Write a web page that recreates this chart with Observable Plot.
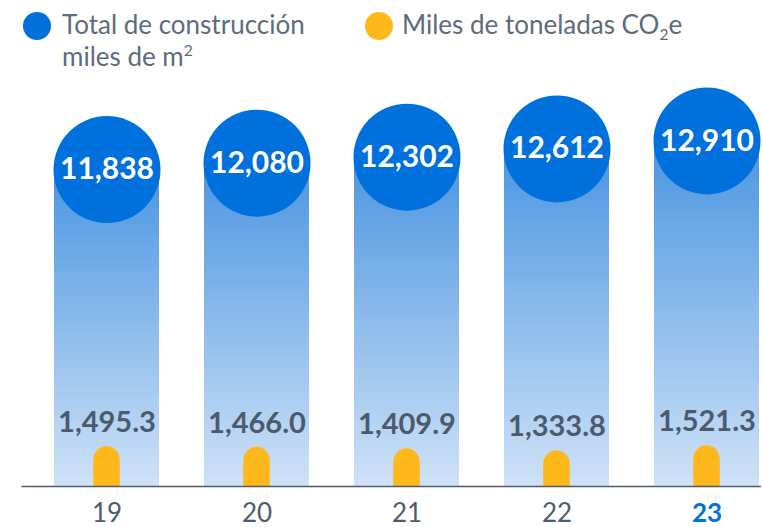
<!DOCTYPE html>
<html><head><meta charset="utf-8">
<script src="https://cdn.jsdelivr.net/npm/d3@7"></script>
<script src="https://cdn.jsdelivr.net/npm/@observablehq/plot@0.6"></script>
<style>
body{margin:0;background:#fff;font-family:Lato,sans-serif;}
#wrap{width:763px;height:527px;position:relative;overflow:hidden;background:#fff}
#legend{position:relative;height:76px;width:763px;color:#5d6c7c;font-size:26px;}
.dot{position:absolute;width:28px;height:28px;border-radius:50%;}
.lab{position:absolute;line-height:32px;white-space:nowrap}
sup,sub{font-size:0.6em;line-height:0}
#chart svg{display:block}
</style></head><body>
<div id="wrap">
<div id="legend">
 <span class="dot" style="left:23px;top:12px;background:#0071dc"></span>
 <span class="lab" style="left:62px;top:8px">Total de construcción<br>miles de m<sup>2</sup></span>
 <span class="dot" style="left:365px;top:12px;background:#ffb81c"></span>
 <span class="lab" style="left:402px;top:8px">Miles de toneladas CO<sub>2</sub>e</span>
</div>
<div id="chart"></div>
</div>
<script>
const years = ["19","20","21","22","23"];
const construction = [11838, 12080, 12302, 12612, 12910];
const emissions = [1495.3, 1466.0, 1409.9, 1333.8, 1521.3];
const highlightYear = "23";

const data = years.map((year, i) => ({year, construction: construction[i], emissions: emissions[i]}));
const fmt0 = d3.format(",");
const fmt1 = d3.format(",.1f");
const blue = "#0071dc", orange = "#ffb81c", ink = "#4b5b6c";

const plot = Plot.plot({
  width: 763, height: 451,
  marginLeft: 51.5, marginRight: 2, marginTop: 62, marginBottom: 41,
  x: {domain: years, paddingInner: 0.3, paddingOuter: 0, axis: null},
  y: {domain: [0, 13000], axis: null},
  style: {fontFamily: "Lato, sans-serif", background: "white", overflow: "visible"},
  marks: [
    Plot.barY(data, {x: "year", y: "construction", fill: "url(#blueGrad)"}),
    Plot.barY(data, {x: "year", y: "emissions", fill: orange, insetLeft: 39.3, insetRight: 39.3, rx: 13.5, ry: 13.5}),
    Plot.barY(data, {x: "year", y1: 0, y2: d => d.emissions / 2, fill: orange, insetLeft: 39.3, insetRight: 39.3}),
    Plot.ruleY([0], {stroke: "#4d5d6e", strokeWidth: 1.6, insetLeft: -30}),
    Plot.dot(data, {x: "year", y: "construction", r: 53.5, fill: blue}),
    Plot.text(data, {x: "year", y: "construction", text: d => fmt0(d.construction), fill: "white", fontSize: 30, fontWeight: "bold"}),
    Plot.text(data, {x: "year", y: "emissions", text: d => fmt1(d.emissions), fill: ink, fontSize: 29, fontWeight: "bold", dy: -24}),
    Plot.text(data.filter(d => d.year !== highlightYear), {x: "year", text: "year", frameAnchor: "bottom", dy: 35, fontSize: 26, fill: "#4e5d6d"}),
    Plot.text(data.filter(d => d.year === highlightYear), {x: "year", text: "year", frameAnchor: "bottom", dy: 35, fontSize: 26, fontWeight: "bold", fill: blue})
  ]
});

const svg = d3.select(plot);
const defs = svg.insert("defs", ":first-child");
const g = defs.append("linearGradient").attr("id", "blueGrad")
  .attr("x1", 0).attr("y1", 0).attr("x2", 0).attr("y2", 1);
g.append("stop").attr("offset", "0%").attr("stop-color", "#4a95e2");
g.append("stop").attr("offset", "100%").attr("stop-color", "#cfe2f7");

document.getElementById("chart").appendChild(plot);
</script>
</body></html>
